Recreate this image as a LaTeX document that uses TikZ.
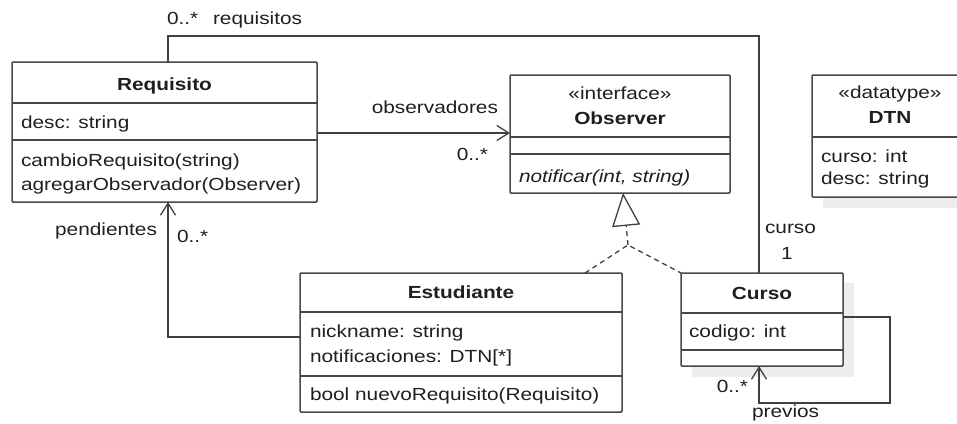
\documentclass[tikz,border=0pt]{standalone}
\usepackage{fontspec}
\setmainfont{Liberation Sans}[FakeStretch=1.19]
\usetikzlibrary{arrows.meta}
\begin{document}
\begin{tikzpicture}[x=1pt,y=-1pt,
  every node/.style={font=\fontsize{17.5}{24}\selectfont, text=black!88, inner sep=0pt, outer sep=0pt},
  box/.style={draw=black!72, line width=1.5pt, fill=white, rounded corners=1pt},
  sep/.style={draw=black!72, line width=1.5pt},
  shadowbox/.style={fill=black!7, draw=none},
  ttl/.style={anchor=base, font=\fontsize{17.5}{24}\selectfont\bfseries},
  stereo/.style={anchor=base},
  txt/.style={anchor=base west},
  assoc/.style={draw=black!75, line width=1.3pt},
  navi/.style={assoc, -{Straight Barb[length=12pt,width=15pt,line width=1.3pt]}},
  realiz/.style={draw=black!75, line width=1.3pt, dash pattern=on 5pt off 4pt},
  gen/.style={realiz, -{Triangle[open,length=33pt,width=28pt,line width=1.3pt]}}
]
\useasboundingbox (0,0) rectangle (957,423);

% shadows
\fill[shadowbox] (823,86) rectangle (979,208);
\fill[shadowbox] (692,283) rectangle (854,377);

% ---------- Requisito ----------
\node[box, minimum width=305pt, minimum height=140pt] (req) at (164.5,132) {};
\draw[sep] (req.west |- 0,103) -- (req.east |- 0,103);
\draw[sep] (req.west |- 0,140) -- (req.east |- 0,140);
\node[ttl] (reqT) at (164.5,90) {Requisito};
\node[txt] (reqA) at (21,128) {desc: string};
\node[txt] (reqM1) at (21,166) {cambioRequisito(string)};
\node[txt] (reqM2) at (21,190) {agregarObservador(Observer)};

% ---------- Observer ----------
\node[box, minimum width=220pt, minimum height=118pt] (obs) at (620,134) {};
\draw[sep] (obs.west |- 0,137) -- (obs.east |- 0,137);
\draw[sep] (obs.west |- 0,154) -- (obs.east |- 0,154);
\node[stereo] (obsS) at (620,99) {«interface»};
\node[ttl] (obsT) at (620,124) {Observer};
\node[txt] (obsM) at (519,182) {\itshape notificar(int, string)};

% ---------- DTN ----------
\node[box, minimum width=156pt, minimum height=122pt] (dtn) at (890,136) {};
\draw[sep] (dtn.west |- 0,137) -- (dtn.east |- 0,137);
\node[stereo] (dtnS) at (890,98) {«datatype»};
\node[ttl] (dtnT) at (890,123) {DTN};
\node[txt] (dtnA1) at (821,162) {curso: int};
\node[txt] (dtnA2) at (821,184) {desc: string};

% ---------- Estudiante ----------
\node[box, minimum width=322pt, minimum height=139pt] (est) at (461,342.5) {};
\draw[sep] (est.west |- 0,312) -- (est.east |- 0,312);
\draw[sep] (est.west |- 0,376) -- (est.east |- 0,376);
\node[ttl] (estT) at (461,298) {Estudiante};
\node[txt] (estA1) at (310,337) {nickname: string};
\node[txt] (estA2) at (310,362) {notificaciones: DTN[*]};
\node[txt] (estM) at (310,400) {bool nuevoRequisito(Requisito)};

% ---------- Curso ----------
\node[box, minimum width=162pt, minimum height=93pt] (curso) at (762,319.5) {};
\draw[sep] (curso.west |- 0,313) -- (curso.east |- 0,313);
\draw[sep] (curso.west |- 0,350) -- (curso.east |- 0,350);
\node[ttl] (cursoT) at (762,299) {Curso};
\node[txt] (cursoA) at (689,337) {codigo: int};

% ---------- connectors ----------
% requisitos / curso
\coordinate (rq1) at (168,36);
\coordinate (rq2) at (759,36);
\draw[assoc] (req.north -| rq1) -- (rq1) -- (rq2) -- (curso.north -| rq2);
\node[txt] (lReqM) at (167,24) {0..*};
\node[txt] (lReqR) at (213,24) {requisitos};
\node[txt] (lCurR) at (765,233) {curso};
\node[stereo] (lCurM) at (787,259) {1};

% observadores
\coordinate (ob) at (0,133);
\draw[navi] (req.east |- ob) -- (obs.west |- ob);
\node[anchor=base east] (lObsR) at (498,113) {observadores};
\node[anchor=base east] (lObsM) at (488,160) {0..*};

% pendientes
\coordinate (pc) at (168,337);
\draw[navi] (est.west |- pc) -| (req.south -| pc);
\node[anchor=base east] (lPenR) at (157,235) {pendientes};
\node[txt] (lPenM) at (177,242) {0..*};

% realization
\coordinate (rj) at (628,245);
\coordinate (tri) at (623,193);
\draw[realiz] (est.north -| 585,0) -- (rj) -- (curso.north west);
\draw[gen] (rj) -- (tri);

% previos (self association)
\coordinate (lp1) at (890,317);
\coordinate (lp2) at (890,403);
\coordinate (lp3) at (759,403);
\draw[navi] (curso.east |- lp1) -- (lp1) -- (lp2) -- (lp3) -- (curso.south -| lp3);
\node[anchor=base east] (lPrvM) at (748,392) {0..*};
\node[txt] (lPrvR) at (752,417) {previos};
\end{tikzpicture}
\end{document}
